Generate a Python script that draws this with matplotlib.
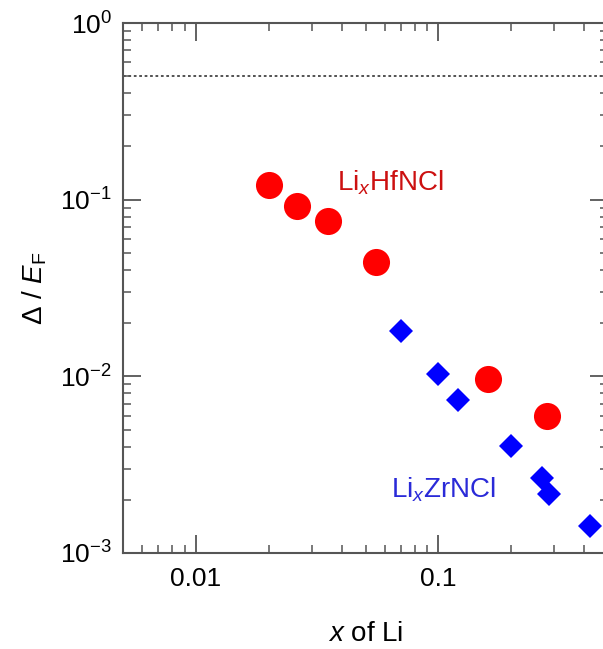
import math
import matplotlib
matplotlib.use("Agg")
from matplotlib import pyplot as plt
from matplotlib.ticker import LogLocator, FixedLocator, FuncFormatter, NullFormatter

plt.rcParams['font.family'] = ['Liberation Sans', 'DejaVu Sans']
plt.rcParams['mathtext.fontset'] = 'custom'
plt.rcParams['mathtext.rm'] = 'Liberation Sans'
plt.rcParams['mathtext.it'] = 'Liberation Sans:italic'

# data
hf_x = [0.020, 0.026, 0.035, 0.055, 0.16, 0.28]
hf_gap = [0.121, 0.092, 0.0757, 0.0444, 0.0097, 0.0060]

zr_x = [0.070, 0.100, 0.120, 0.200, 0.267, 0.285, 0.42]
zr_gap = [0.0181, 0.0103, 0.00735, 0.00404, 0.00266, 0.00216, 0.00142]

bcs_limit = 0.5
x_ticks = [0.01, 0.1]
x_tick_labels = ['0.01', '0.1']
y_ticks = [1e-3, 1e-2, 1e-1, 1e0]

fig = plt.figure(figsize=(6.03, 6.49), dpi=100)
ax = fig.add_axes([123 / 603, 96 / 649, 485 / 603, 530 / 649])

ax.axhline(bcs_limit, color='#444444', linestyle=(0, (1.5, 1.5)), linewidth=1.3, zorder=1)

ax.plot(hf_x, hf_gap, 'o', color='#ff0000', markersize=19.5, markeredgewidth=0, zorder=3)
ax.plot(zr_x, zr_gap, 'D', color='#0000ff', markersize=12.5, markeredgewidth=0, zorder=3)

ax.text(0.038, 0.124, r'Li$_x$HfNCl', color='#cc1010', fontsize=20, ha='left', va='center')
ax.text(0.064, 0.00228, r'Li$_x$ZrNCl', color='#2a2ad8', fontsize=20, ha='left', va='center')

ax.set_xscale('log')
ax.set_yscale('log')
ax.set_xlim(0.005, 0.5)
ax.set_ylim(1e-3, 1)

ax.xaxis.set_major_locator(FixedLocator(x_ticks))
ax.xaxis.set_major_formatter(FuncFormatter(lambda v, p: x_tick_labels[x_ticks.index(v)] if v in x_ticks else ''))
ax.xaxis.set_minor_locator(LogLocator(base=10, subs=range(2, 10)))
ax.xaxis.set_minor_formatter(NullFormatter())

ax.yaxis.set_major_locator(FixedLocator(y_ticks))
ax.yaxis.set_major_formatter(FuncFormatter(lambda v, p: r'$\mathregular{10^{%d}}$' % round(math.log10(v))))
ax.yaxis.set_minor_locator(LogLocator(base=10, subs=range(2, 10)))
ax.yaxis.set_minor_formatter(NullFormatter())

for s in ax.spines.values():
    s.set_color('#555555')
    s.set_linewidth(1.5)
ax.tick_params(which='both', direction='in', top=True, right=True, color='#555555')
ax.tick_params(which='major', length=13, width=1.3, labelsize=19, pad=8)
ax.tick_params(which='minor', length=6, width=1.1)
ax.tick_params(axis='x', which='major', pad=10)

ax.set_xlabel(r'$\it{x}$ of Li', fontsize=20, labelpad=22)
ax.set_ylabel(r'$\Delta$ / $\it{E}_\mathregular{F}$', fontsize=20, labelpad=8)

fig.savefig('out.png', dpi=100)
